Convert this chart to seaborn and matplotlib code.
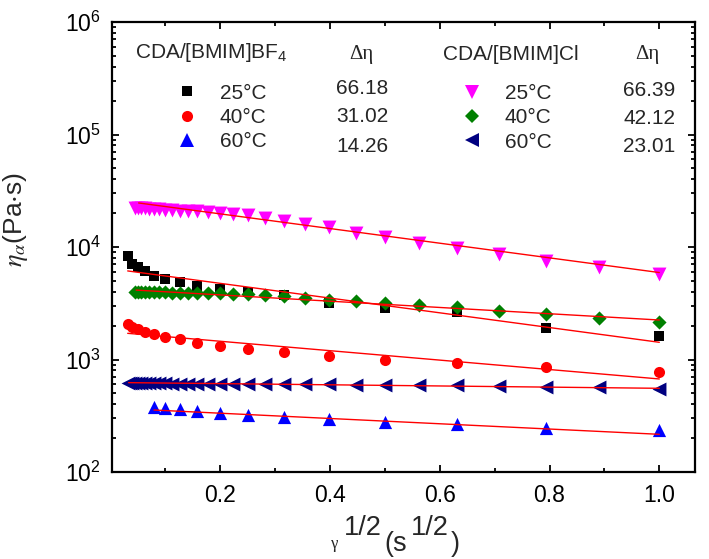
import matplotlib
matplotlib.use("Agg")
import numpy as np
import pandas as pd
import seaborn as sns
import matplotlib.pyplot as plt
from matplotlib.lines import Line2D
from matplotlib.ticker import LogLocator, MultipleLocator, NullFormatter

# ---------------- data ----------------
x_bf4 = [0.0316, 0.0398, 0.0501, 0.0631, 0.0794, 0.1, 0.126, 0.158, 0.2, 0.251,
         0.316, 0.398, 0.501, 0.631, 0.794, 1.0]
x_bf4_60 = [0.0794, 0.1, 0.126, 0.158, 0.2, 0.251, 0.316, 0.398, 0.501, 0.631, 0.794, 1.0]
x_cl = [0.0447, 0.0501, 0.0562, 0.0631, 0.0708, 0.0794, 0.0891, 0.1, 0.112, 0.126,
        0.141, 0.158, 0.178, 0.2, 0.224, 0.251, 0.282, 0.316, 0.355, 0.398,
        0.447, 0.501, 0.562, 0.631, 0.708, 0.794, 0.891, 1.0]
x_cl_60 = [0.0316, 0.0355, 0.0398, 0.0447, 0.0501, 0.0562, 0.0631, 0.0708, 0.0794, 0.0891,
           0.1, 0.112, 0.126, 0.141, 0.158, 0.178, 0.2, 0.224, 0.251, 0.282,
           0.316, 0.355, 0.398, 0.447, 0.501, 0.562, 0.631, 0.708, 0.794, 0.891, 1.0]

eta_bf4_25 = [8370, 7060, 6590, 6120, 5560, 5230, 4860, 4500, 4200, 4010,
              3740, 3160, 2890, 2660, 1917, 1618]
eta_bf4_40 = [2050, 1960, 1870, 1770, 1680, 1600, 1510, 1410, 1330, 1240,
              1160, 1075, 1000, 925, 863, 780]
eta_bf4_60 = [381, 373, 363, 348, 332, 321, 306, 294, 276, 265, 248, 236]
eta_cl_25 = [22300, 22200, 22100, 22000, 21900, 21800, 21700, 21500, 21300, 21100,
             20900, 20700, 20400, 20100, 19600, 19100, 18000, 17130, 15900, 14970,
             13240, 12360, 10790, 9730, 8610, 7560, 6590, 5750]
eta_cl_40 = [4000, 4000, 3990, 3990, 3980, 3970, 3960, 3950, 3940, 3930,
             3920, 3910, 3900, 3870, 3850, 3820, 3740, 3660, 3540, 3380,
             3310, 3160, 3050, 2910, 2720, 2520, 2360, 2140]
eta_cl_60 = [622, 621, 620, 619, 618, 617, 616, 615, 614, 613,
             612, 611, 610, 609, 608, 606, 605, 604, 603, 602,
             601, 600, 600, 599, 598, 593, 590, 585, 575, 568, 550]

# linear fits of log10(eta) vs gamma^1/2 (intercept, slope, start of fitted range)
fit_intercept = [3.808, 3.246, 2.5695, 4.425, 3.630, 2.796]
fit_slope = [-0.655, -0.419, -0.2345, -0.652, -0.279, -0.052]
fit_start = [0.0316, 0.0316, 0.0794, 0.0515, 0.047, 0.0333]
fit_end = [1.0, 1.0, 1.0, 1.0, 1.0, 1.0]

temps = ["25\u00b0C", "40\u00b0C", "60\u00b0C"]
delta_bf4 = ["66.18", "31.02", "14.26"]
delta_cl = ["66.39", "42.12", "23.01"]

# ---------------- style ----------------
sns.set_style("ticks")
plt.rcParams["font.family"] = ["Liberation Sans", "DejaVu Sans"]
plt.rcParams["mathtext.fontset"] = "custom"
plt.rcParams["mathtext.rm"] = "Liberation Sans"
plt.rcParams["mathtext.it"] = "Liberation Sans:italic"
plt.rcParams["axes.edgecolor"] = "black"

W, H = 709, 559
fig = plt.figure(figsize=(W / 100, H / 100), dpi=100)
ax = fig.add_axes([112 / W, 1 - 472 / H, 583 / W, 450 / H])

series = [
    (x_bf4, eta_bf4_25, "#000000", "s", 6.8),
    (x_bf4, eta_bf4_40, "#FF0000", "o", 8.0),
    (x_bf4_60, eta_bf4_60, "#0000FF", "^", 9.5),
    (x_cl, eta_cl_25, "#FF00FF", "v", 10.0),
    (x_cl, eta_cl_40, "#008000", "D", 7.2),
    (x_cl_60, eta_cl_60, "#000080", "<", 10.0),
]

for i, (xs, ys, col, mk, ms) in enumerate(series):
    df = pd.DataFrame({"x": xs, "y": ys})
    sns.scatterplot(data=df, x="x", y="y", marker=mk, s=ms ** 2, color=col,
                    linewidth=0, ax=ax, legend=False, zorder=2)

for a, b, x0, x1 in zip(fit_intercept, fit_slope, fit_start, fit_end):
    xf = np.array([x0, x1])
    dff = pd.DataFrame({"x": xf, "y": 10 ** (a + b * xf)})
    sns.lineplot(data=dff, x="x", y="y", color="#FF0000", linewidth=1.0, ax=ax,
                 legend=False, zorder=3)

ax.set_yscale("log")
ax.set_xlim(0.003, 1.065)
ax.set_ylim(1e2, 1e6)
ax.xaxis.set_major_locator(MultipleLocator(0.2))
ax.xaxis.set_minor_locator(MultipleLocator(0.1))
ax.yaxis.set_major_locator(LogLocator(base=10, numticks=10))
ax.yaxis.set_minor_locator(LogLocator(base=10, subs=np.arange(2, 10), numticks=20))
ax.yaxis.set_minor_formatter(NullFormatter())

for s in ax.spines.values():
    s.set_linewidth(1.6)
    s.set_visible(True)
    s.set_color("black")
ax.tick_params(which="both", direction="in", top=True, right=True, width=1.3,
               labelsize=16.5, color="black", labelcolor="black")
ax.tick_params(which="major", length=5)
ax.tick_params(which="minor", length=3)
ax.tick_params(axis="y", pad=8)
ax.tick_params(axis="x", pad=9)
ax.set_xlabel("")
ax.set_ylabel(r"$\eta_{\alpha}$(Pa$\cdot$s)", fontsize=19, math_fontfamily="stix")
ax.yaxis.set_label_coords(-0.14, 0.56)

# x label pieces (mixed sizes as in the reference)
def ftext(px, py, s, **kw):
    fig.text(px / W, 1 - py / H, s, va="baseline", ha="left", **kw)

ftext(331, 548, "\u03b3", fontsize=12, family="Liberation Serif")
ftext(344, 535, "1/2", fontsize=19.5)
ftext(384, 551, "(s", fontsize=19.5)
ftext(411, 535, "1/2", fontsize=19.5)
ftext(451, 551, ")", fontsize=19.5)

# ---------------- legends ----------------
def axf(px, py):
    return ((px - 112) / 583, (472 - py) / 450)

h_bf4 = [Line2D([], [], linestyle="none", marker=mk, markersize=ms, color=col,
                markeredgewidth=0) for (_, _, col, mk, ms) in series[:3]]
h_cl = [Line2D([], [], linestyle="none", marker=mk, markersize=ms, color=col,
               markeredgewidth=0) for (_, _, col, mk, ms) in series[3:]]

leg_kw = dict(frameon=False, fontsize=15, handlelength=1.0, handletextpad=1.08,
              labelspacing=0.25, borderpad=0, borderaxespad=0, loc="center left")
leg1 = ax.legend(h_bf4, temps, bbox_to_anchor=axf(176.6, 117.5), **leg_kw)
ax.add_artist(leg1)
leg2 = ax.legend(h_cl, temps, bbox_to_anchor=axf(461.6, 118), **leg_kw)

def atext(px, py, s, **kw):
    x, y = axf(px, py)
    ax.text(x, y, s, transform=ax.transAxes, va="center", **kw)

atext(135, 52, "CDA/[BMIM]BF$_4$", fontsize=15, ha="left")
atext(443, 54, "CDA/[BMIM]Cl", fontsize=15, ha="left")
atext(361, 55, "\u0394\u03b7", fontsize=15, ha="center", family="Liberation Serif")
atext(647, 55, "\u0394\u03b7", fontsize=15, ha="center", family="Liberation Serif")
for v, py in zip(delta_bf4, [89, 117, 146]):
    atext(362, py, v, fontsize=15, ha="center")
for v, py in zip(delta_cl, [90, 118, 146]):
    atext(649, py, v, fontsize=15, ha="center")

fig.savefig("out.png", dpi=100)
